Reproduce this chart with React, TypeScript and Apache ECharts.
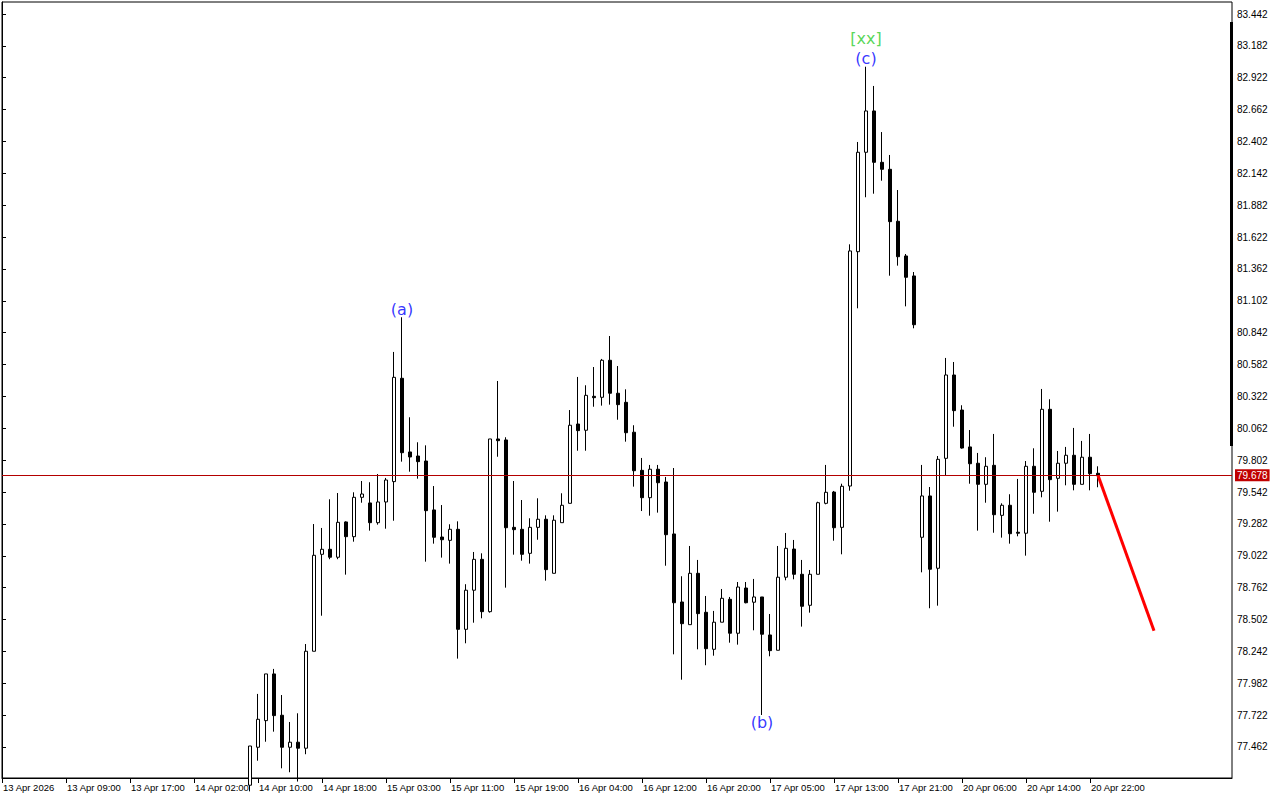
import React, { useEffect, useRef } from 'react';
import * as echarts from 'echarts';

// ---- data (hourly bars, index = bar number from 13 Apr 2026) ----
const FIRST_BAR = 31;
const opens = [
  77.150, 77.460, 77.677, 78.058, 77.721, 77.460, 77.501, 77.452, 78.243, 79.034,
  79.075, 79.010, 79.298, 79.178, 79.499, 79.453, 79.292, 79.461, 79.627, 80.470,
  79.869, 79.836, 79.795, 79.396, 79.175, 79.148, 79.238, 78.422, 78.741, 78.993,
  78.566, 79.975, 79.967, 79.254, 79.238, 79.042, 79.254, 79.320, 78.879, 79.292,
  79.450, 80.097, 80.046, 80.323, 80.315, 80.617, 80.348, 80.274, 80.030, 79.719,
  79.496, 79.728, 79.624, 79.200, 78.645, 78.460, 78.879, 78.561, 78.259, 78.480,
  78.667, 78.390, 78.759, 78.643, 78.686, 78.376, 78.251, 78.847, 79.077, 78.871,
  78.618, 78.871, 79.450, 79.542, 79.254, 79.591, 81.503, 82.314, 82.651, 82.232,
  82.175, 81.751, 81.468, 81.305, 79.173, 79.510, 78.920, 79.817, 80.497, 80.211,
  79.910, 79.777, 79.605, 79.760, 79.352, 79.434, 79.214, 79.206, 79.752, 79.548,
  80.217, 79.654, 79.777, 79.842, 79.605, 79.826, 79.695,
];
const closes = [
  77.470, 77.688, 78.058, 77.718, 77.460, 77.501, 77.452, 78.243, 79.026, 79.075,
  79.010, 79.295, 79.178, 79.499, 79.526, 79.292, 79.461, 79.640, 80.478, 79.863,
  79.828, 79.790, 79.390, 79.173, 79.153, 79.238, 78.422, 78.741, 78.993, 78.566,
  79.975, 79.961, 79.251, 79.235, 79.034, 79.254, 79.320, 78.909, 79.312, 79.434,
  80.087, 80.043, 80.331, 80.312, 80.617, 80.348, 80.255, 80.026, 79.716, 79.496,
  79.728, 79.618, 79.194, 78.639, 78.468, 78.879, 78.550, 78.264, 78.480, 78.675,
  78.390, 78.767, 78.639, 78.686, 78.382, 78.248, 78.847, 79.083, 78.871, 78.610,
  78.871, 79.455, 79.540, 79.251, 79.589, 81.509, 82.314, 82.651, 82.232, 82.175,
  81.748, 81.462, 81.294, 80.907, 79.510, 78.912, 79.809, 80.497, 80.206, 79.901,
  79.773, 79.605, 79.752, 79.357, 79.434, 79.202, 79.206, 79.752, 79.540, 80.217,
  79.643, 79.777, 79.842, 79.605, 79.826, 79.692, 79.679,
];
const lows = [
  77.100, 77.350, 77.505, 77.587, 77.288, 77.256, 77.180, 77.403, 78.243, 78.533,
  78.994, 78.994, 78.868, 79.137, 79.455, 79.227, 79.276, 79.243, 79.308, 79.790,
  79.708, 79.651, 78.974, 79.121, 79.007, 78.958, 78.183, 78.308, 78.476, 78.512,
  78.558, 79.830, 78.762, 79.031, 78.982, 78.958, 79.153, 78.819, 78.879, 79.292,
  79.450, 79.879, 79.879, 80.238, 80.247, 80.255, 80.132, 79.953, 79.586, 79.387,
  79.349, 79.374, 78.941, 78.218, 78.011, 78.460, 78.259, 78.129, 78.207, 78.480,
  78.313, 78.297, 78.634, 78.414, 77.723, 78.202, 78.251, 78.822, 78.830, 78.444,
  78.558, 78.871, 79.442, 79.145, 79.034, 79.553, 81.041, 81.947, 81.976, 82.082,
  81.307, 81.389, 81.057, 80.878, 78.887, 78.594, 78.615, 79.681, 80.075, 79.896,
  79.610, 79.227, 79.455, 79.210, 79.170, 79.121, 79.181, 79.023, 79.365, 79.499,
  79.300, 79.382, 79.597, 79.556, 79.605, 79.556, 79.581,
];
const highs = [
  77.470, 77.895, 78.058, 78.099, 77.886, 77.666, 77.737, 78.302, 79.281, 79.249,
  79.483, 79.534, 79.303, 79.540, 79.632, 79.622, 79.689, 79.657, 80.685, 80.968,
  80.152, 79.948, 79.923, 79.591, 79.436, 79.279, 79.303, 78.790, 79.053, 79.042,
  79.975, 80.448, 79.989, 79.632, 79.477, 79.328, 79.491, 79.352, 79.352, 79.532,
  80.211, 80.481, 80.413, 80.562, 80.628, 80.815, 80.570, 80.380, 80.087, 79.820,
  79.763, 79.763, 79.665, 79.738, 78.855, 79.102, 78.988, 78.694, 78.572, 78.751,
  78.686, 78.808, 78.808, 78.833, 78.686, 78.547, 79.102, 79.208, 79.151, 78.988,
  78.906, 79.463, 79.763, 79.551, 79.610, 81.563, 82.398, 83.012, 82.855, 82.479,
  82.292, 82.006, 81.484, 81.337, 79.763, 79.583, 79.836, 80.636, 80.603, 80.250,
  80.048, 79.861, 79.826, 80.016, 79.450, 79.524, 79.649, 79.795, 79.899, 80.383,
  80.299, 79.877, 79.910, 80.065, 79.959, 80.016, 79.752,
];

const xTickLabels = [
  '13 Apr 2026', '13 Apr 09:00', '13 Apr 17:00', '14 Apr 02:00', '14 Apr 10:00',
  '14 Apr 18:00', '15 Apr 03:00', '15 Apr 11:00', '15 Apr 19:00', '16 Apr 04:00',
  '16 Apr 12:00', '16 Apr 20:00', '17 Apr 05:00', '17 Apr 13:00', '17 Apr 21:00',
  '20 Apr 06:00', '20 Apr 14:00', '20 Apr 22:00',
];
const X_TICK_STEP = 8; // bars between time labels

const yTickLabels = [
  '83.442', '83.182', '82.922', '82.662', '82.402', '82.142', '81.882', '81.622',
  '81.362', '81.102', '80.842', '80.582', '80.322', '80.062', '79.802', '79.542',
  '79.282', '79.022', '78.762', '78.502', '78.242', '77.982', '77.722', '77.462',
];
const Y_MIN = 77.209;
const Y_MAX = 83.54;
const X_MAX = 153.75;

const lastPrice = 79.678;

const waveLabels = ['(a)', '(b)', '(c)', '[xx]'];
const waveBars = [50, 95, 108, 108];
const wavePrices = [80.968, 77.723, 83.012, 83.012];
const waveBelow = [false, true, false, false];
const waveLevel = [0, 0, 0, 1];

const forecastBars = [137, 144];
const forecastPrices = [79.678, 78.411];

const AXIS_FONT = 'Liberation Sans, Arial, sans-serif';

export default function App() {
  const ref = useRef<HTMLDivElement>(null);

  useEffect(() => {
    if (!ref.current) return;
    const chart = echarts.init(ref.current, undefined, { renderer: 'svg' });

    const candleData = opens.map((o, k) => [FIRST_BAR + k, o, closes[k], lows[k], highs[k]]);
    const xTickValues = xTickLabels.map((_, k) => k * X_TICK_STEP);
    const yTickValues = yTickLabels.map((s) => parseFloat(s));

    const waveData = waveLabels.map((t, k) => ({
      value: [waveBars[k], wavePrices[k]],
      label: {
        show: true,
        formatter: t,
        position: waveBelow[k] ? 'bottom' : 'top',
        distance: waveLevel[k] ? 20 : 0,
        color: t === '[xx]' ? '#2ecc2e' : '#0000ff',
        fontSize: 16,
        fontFamily: 'DejaVu Sans, sans-serif',
      },
    }));

    chart.setOption({
      animation: false,
      backgroundColor: '#ffffff',
      grid: {
        left: 2,
        top: 2,
        width: 1230,
        height: 776,
        show: true,
        borderColor: '#000000',
        borderWidth: 1,
        backgroundColor: '#ffffff',
      },
      xAxis: {
        type: 'value',
        min: 0,
        max: X_MAX,
        axisLine: { show: true, lineStyle: { color: '#000000', width: 1 } },
        axisTick: {
          show: true,
          customValues: xTickValues,
          length: 5,
          lineStyle: { color: '#000000' },
        },
        axisLabel: {
          customValues: xTickValues,
          formatter: (v: number) => xTickLabels[Math.round(v / X_TICK_STEP)] ?? '',
          align: 'left',
          margin: 4,
          padding: [0, 0, 0, 1],
          color: '#000000',
          fontSize: 9.5,
          fontFamily: AXIS_FONT,
        },
        splitLine: { show: false },
      },
      yAxis: {
        type: 'value',
        position: 'right',
        min: Y_MIN,
        max: Y_MAX,
        scale: true,
        axisLine: { show: true, lineStyle: { color: '#000000', width: 1 } },
        axisTick: {
          show: true,
          customValues: yTickValues,
          length: 4,
          lineStyle: { color: '#000000' },
        },
        axisLabel: {
          customValues: yTickValues,
          formatter: (v: number) => v.toFixed(3),
          margin: 5,
          color: '#000000',
          fontSize: 10,
          fontFamily: AXIS_FONT,
        },
        splitLine: { show: false },
      },
      graphic: [
        {
          type: 'rect',
          z: 100,
          shape: { x: 1230, y: 22, width: 3, height: 424 },
          style: { fill: '#000000' },
        },
      ],
      series: [
        {
          type: 'candlestick',
          data: candleData,
          encode: { x: 0, y: [1, 2, 3, 4] },
          barWidth: 4,
          clip: true,
          itemStyle: {
            color: '#ffffff',
            color0: '#000000',
            borderColor: '#000000',
            borderColor0: '#000000',
            borderColorDoji: '#000000',
            borderWidth: 1,
          },
          markLine: {
            silent: true,
            symbol: 'none',
            data: [{ yAxis: lastPrice }],
            lineStyle: { color: '#b40000', width: 1, type: 'solid' },
            label: {
              show: true,
              position: 'end',
              formatter: lastPrice.toFixed(3),
              color: '#ffffff',
              backgroundColor: '#c00000',
              padding: [1, 2, 1, 2],
              distance: 3,
              fontSize: 10,
              fontFamily: AXIS_FONT,
            },
          },
        },
        {
          type: 'line',
          data: forecastBars.map((b, k) => [b, forecastPrices[k]]),
          symbol: 'none',
          lineStyle: { color: '#ff0000', width: 3 },
          z: 5,
        },
        {
          type: 'scatter',
          data: waveData,
          symbolSize: 0,
          itemStyle: { color: 'transparent' },
          z: 6,
        },
      ],
    });

    return () => chart.dispose();
  }, []);

  return (
    <div
      ref={ref}
      style={{ position: 'fixed', left: 0, top: 0, width: 1280, height: 800, background: '#ffffff' }}
    />
  );
}
